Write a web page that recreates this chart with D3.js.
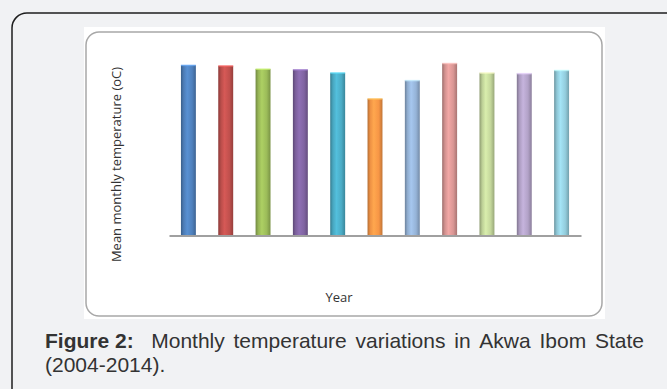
<!DOCTYPE html>
<html><head><meta charset="utf-8">
<script src="https://cdn.jsdelivr.net/npm/d3@7"></script>
<style>
html,body{margin:0;padding:0;background:#f1f2f4;}
svg{display:block;}
</style></head>
<body>
<script>
// Data (no tick labels shown in the original)
const years = ["2004","2005","2006","2007","2008","2009","2010","2011","2012","2013","2014"];
const temps = [26.9, 26.8, 26.3, 26.2, 25.7, 21.6, 24.5, 27.2, 25.7, 25.6, 26.1];
const colors = ["#4F81BD","#C0504D","#9BBB59","#8064A2","#4BACC6","#F79646","#95B3D7","#D99694","#C3D69B","#B2A2C7","#93CDDD"];
const yLabel = "Mean monthly temperature (oC)";
const xLabel = "Year";
const captionBold = "Figure 2:";
const captionLine1 = "Monthly temperature variations in Akwa Ibom State";
const captionLine2 = "(2004-2014).";

const W = 667, H = 389;
const svg = d3.select("body").append("svg").attr("width", W).attr("height", H);

svg.append("rect").attr("width", W).attr("height", H).attr("fill", "#f1f2f4");
svg.append("rect").attr("x", 12).attr("y", 13).attr("width", 720).attr("height", 420)
  .attr("rx", 15).attr("fill", "none").attr("stroke", "#1e1e1e").attr("stroke-width", 1.5);

svg.append("rect").attr("x", 84).attr("y", 27).attr("width", 521).attr("height", 292).attr("fill", "#ffffff");
svg.append("rect").attr("x", 86).attr("y", 32).attr("width", 516).attr("height", 284)
  .attr("rx", 13).attr("fill", "none").attr("stroke", "#a8a8a8").attr("stroke-width", 1.5);

const x = d3.scaleBand().domain(years).range([169, 581]).paddingInner(0.6).paddingOuter(0.32);
const y = d3.scaleLinear().domain([0, 30]).range([235.5, 45.5]);

const defs = svg.append("defs");
colors.forEach((c, i) => {
  const base = d3.color(c);
  const g = defs.append("linearGradient").attr("id", "g" + i)
    .attr("x1", "0%").attr("x2", "100%").attr("y1", "0%").attr("y2", "0%");
  g.append("stop").attr("offset", "0%").attr("stop-color", base.darker(0.9));
  g.append("stop").attr("offset", "18%").attr("stop-color", base.darker(0.1));
  g.append("stop").attr("offset", "42%").attr("stop-color", base.brighter(0.3));
  g.append("stop").attr("offset", "75%").attr("stop-color", base);
  g.append("stop").attr("offset", "100%").attr("stop-color", base.darker(0.7));
});

const data = years.map((yr, i) => ({yr, v: temps[i], i}));
const bars = svg.append("g");
bars.selectAll("rect.bar").data(data).join("rect").attr("class", "bar")
  .attr("x", d => x(d.yr)).attr("width", x.bandwidth())
  .attr("y", d => y(d.v)).attr("height", d => y(0) - y(d.v))
  .attr("fill", d => `url(#g${d.i})`);
bars.selectAll("rect.cap").data(data).join("rect").attr("class", "cap")
  .attr("x", d => x(d.yr)).attr("width", x.bandwidth())
  .attr("y", d => y(d.v) - 0.5).attr("height", 1.5)
  .attr("fill", d => d3.color(colors[d.i]).brighter(0.8)).attr("opacity", 0.7);

const xAxis = d3.axisBottom(x).tickSize(0).tickFormat("");
const ax = svg.append("g").attr("transform", `translate(0,${y(0)})`).call(xAxis);
ax.select(".domain").attr("stroke", "#a0a0a0").attr("stroke-width", 1.8);
ax.selectAll(".tick").remove();

svg.append("text").attr("transform", "translate(121,164.5) rotate(-90)")
  .attr("text-anchor", "middle").attr("font-family", "'Open Sans', sans-serif")
  .attr("font-size", 13).attr("fill", "#333").text(yLabel);
svg.append("text").attr("x", 339).attr("y", 302).attr("text-anchor", "middle")
  .attr("font-family", "'Open Sans', sans-serif").attr("font-size", 13).attr("fill", "#333").text(xLabel);

// caption: justified first line, words placed explicitly
const fs = 21, left = 45, right = 644;
const font = "'Liberation Sans', Arial, sans-serif";
const words = [{t: captionBold, b: true}].concat(captionLine1.split(" ").map(t => ({t, b: false})));
const measure = svg.append("text").attr("font-family", font).attr("font-size", fs);
words.forEach(w => {
  measure.attr("font-weight", w.b ? "bold" : "normal").text(w.t);
  w.w = measure.node().getComputedTextLength();
});
measure.remove();
const totalW = d3.sum(words, w => w.w);
const gapWeights = words.slice(1).map((w, i) => i === 0 ? 2 : 1);
const extra = (right - left) - totalW;
const unit = extra / d3.sum(gapWeights);
let cx = left;
const g1 = svg.append("g");
words.forEach((w, i) => {
  g1.append("text").attr("x", cx).attr("y", 348).attr("font-family", font).attr("font-size", fs)
    .attr("font-weight", w.b ? "bold" : "normal").attr("fill", "#333").text(w.t);
  if (i < words.length - 1) cx += w.w + unit * gapWeights[i];
});
svg.append("text").attr("x", left).attr("y", 372)
  .attr("font-family", font).attr("font-size", fs).attr("fill", "#333").text(captionLine2);
</script>
</body></html>
